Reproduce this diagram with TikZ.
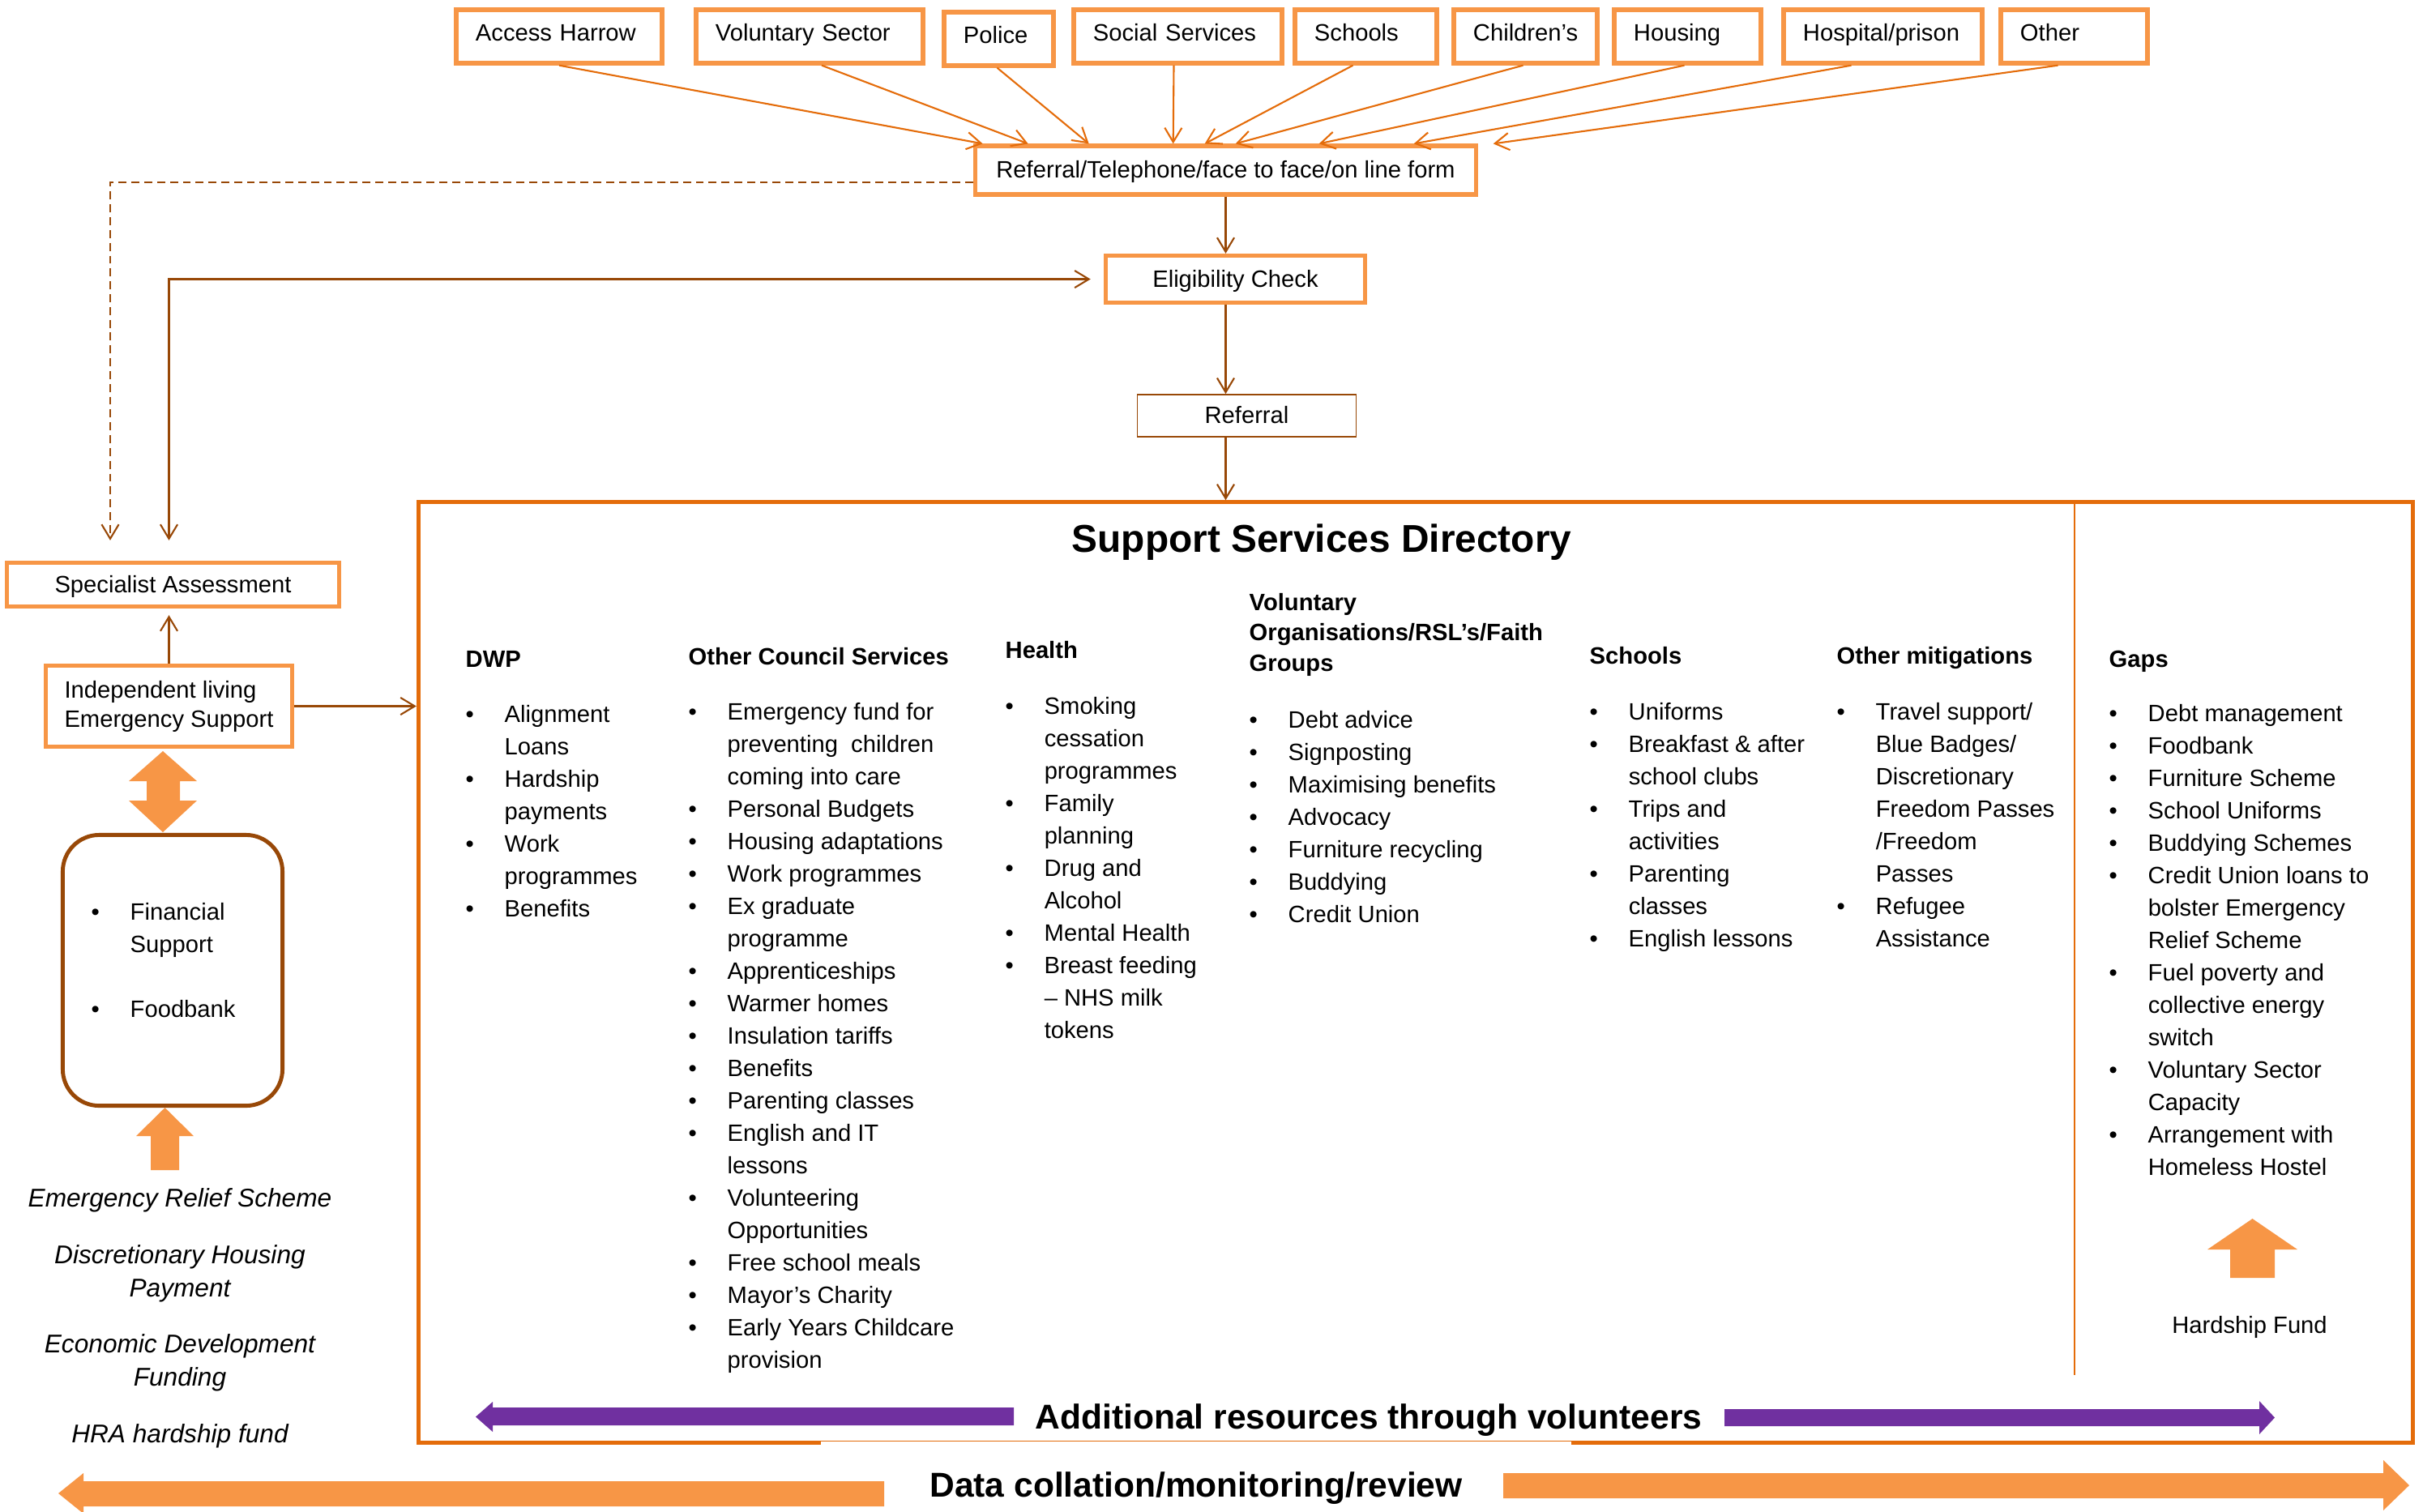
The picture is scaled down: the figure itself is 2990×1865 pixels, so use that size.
\documentclass[tikz,border=0pt]{standalone}
\usepackage{fontspec}
\setmainfont{Liberation Sans}
\usetikzlibrary{arrows.meta,calc}

\definecolor{lightorange}{HTML}{F79646}
\definecolor{darkorange}{HTML}{E46C0A}
\definecolor{rustbrown}{HTML}{984807}
\definecolor{volpurple}{HTML}{7030A0}

\newcommand{\itm}{\makebox[13.66pt][l]{\textbullet}}
\newcommand{\cnt}{\hspace*{13.66pt}}

\tikzset{
  >={Straight Barb[length=5pt,width=6pt]},
  boxbase/.style={draw=lightorange, line width=1.5pt, fill=white},
  srcbox/.style={boxbase, inner xsep=0.24cm, minimum height=0.66cm, align=left, text height=6pt, text depth=3pt},
  flowbox/.style={boxbase, align=center, text height=7pt, text depth=1.5pt},
  feed/.style={draw=darkorange, line width=0.6pt, ->},
  conn/.style={draw=rustbrown, line width=0.6pt, ->},
  head/.style={font=\fontsize{8.3}{10.67}\selectfont\bfseries, anchor=base west},
  items/.style={anchor=base west},
  fund/.style={font=\fontsize{9}{11.7}\selectfont\itshape, align=center},
  banner/.style={font=\fontsize{12.1}{14}\selectfont\bfseries, anchor=base}
}

\begin{document}
\begin{tikzpicture}[x=0.01cm,y=-0.01cm,
  every node/.style={font=\fontsize{8.3}{11.38}\selectfont, inner sep=0pt}]

  \useasboundingbox (0,0) rectangle (2990,1865);

  % where referrals come from
  \node[srcbox, text width=2.06cm] (ah)  at (690,45)    {Access Harrow};
  \node[srcbox, text width=2.32cm] (vs)  at (999,45)    {Voluntary Sector};
  \node[srcbox, text width=0.87cm] (pol) at (1232.5,48) {Police};
  \node[srcbox, text width=2.09cm] (ss)  at (1453.5,45) {Social Services};
  \node[srcbox, text width=1.27cm] (sch) at (1685.5,45) {Schools};
  \node[srcbox, text width=1.29cm] (chi) at (1882.5,45) {Children’s};
  \node[srcbox, text width=1.33cm] (hou) at (2082.5,45) {Housing};
  \node[srcbox, text width=1.97cm] (hos) at (2323.5,45) {Hospital/prison};
  \node[srcbox, text width=1.33cm] (oth) at (2559.5,45) {Other};

  \node[flowbox, minimum width=6.18cm, minimum height=0.6cm] (refT) at (1512.5,210)
    {Referral/Telephone/face to face/on line form};
  \node[flowbox, minimum width=3.2cm, minimum height=0.58cm] (elig) at (1524.5,344.5) {Eligibility Check};
  \node[flowbox, draw=rustbrown, line width=0.5pt, minimum width=2.7cm, minimum height=0.52cm] (ref) at (1538.5,513) {Referral};

  \foreach \src/\sx/\ex in {ah/0/12, vs/15/68, pol/-2/143, ss/-5/247, sch/-16/286,
                            chi/-3/324, hou/-4/427, hos/-39/544, oth/-20/642}
    \draw[feed] ($(\src.south)+(\sx,0)$) -- ($(refT.north west)+(\ex,0)$);

  % left hand side
  \node[flowbox, minimum width=4.1cm, minimum height=0.54cm] (spec) at (213.5,721.5) {Specialist Assessment};
  \node[boxbase, align=left, minimum width=3.04cm, minimum height=1.0cm,
        font=\fontsize{8.3}{10.24}\selectfont] (ind) at (208.5,871.5) {Independent living\\Emergency Support};
  \node[draw=rustbrown, line width=1.4pt, rounded corners=0.45cm, minimum width=2.71cm, minimum height=3.34cm] (fin) at (213,1197.5) {};
  \node[items] (finlist) at (112,1135) {\begin{tabular}[t]{@{}l@{}}
    \itm Financial\\ \cnt Support\\ \\ \itm Foodbank\end{tabular}};

  \fill[lightorange] (201,927) -- (243,964) -- (222,964) -- (222,988) -- (243,988) -- (201,1027)
    -- (159,988) -- (181,988) -- (181,964) -- (159,964) -- cycle;
  \fill[lightorange] (203.5,1367) -- (239,1402) -- (221,1402) -- (221,1444) -- (186,1444)
    -- (186,1402) -- (168,1402) -- cycle;

  \node[fund, anchor=base] (funds) at (222,1780) {Emergency Relief Scheme\\[8pt]Discretionary Housing\\Payment\\[8pt]Economic Development\\Funding\\[8pt]HRA hardship fund};

  % directory
  \node[draw=darkorange, line width=1.4pt, minimum width=24.6cm, minimum height=11.6cm] (ssd) at (1747,1200) {};
  \node[font=\fontsize{13.6}{16}\selectfont\bfseries, anchor=base] (ssdtitle) at (1631,681) {Support Services Directory};
  \coordinate (gapx) at (2560,1697);
  \draw[darkorange, line width=0.45pt] (gapx |- ssd.north) -- (gapx);

  \draw[conn] (refT.south) -- (refT.south |- elig.north);
  \draw[conn] (refT.south |- elig.south) -- (refT.south |- ref.north);
  \draw[conn] (refT.south |- ref.south) -- (refT.south |- ssd.north);

  \coordinate (dashx) at (136,0);
  \draw[conn, dash pattern=on 2.8pt off 1.7pt, shorten >=0.25cm] ($(refT.west)+(0,15)$) -| (dashx |- spec.north);
  \draw[conn, <->, shorten <=0.25cm, shorten >=0.16cm] (ind.north |- spec.north) |- (elig.west);
  \draw[conn, shorten >=0.08cm] (ind.north) -- (ind.north |- spec.south);
  \draw[conn] (ind.east) -- (ind.east -| ssd.west);

  \node[head] (dwph) at (574,823) {DWP};
  \node[items] (dwpl) at (574,891) {\begin{tabular}[t]{@{}l@{}}
    \itm Alignment\\ \cnt Loans\\ \itm Hardship\\ \cnt payments\\ \itm Work\\ \cnt programmes\\ \itm Benefits\end{tabular}};

  \node[head] (ocsh) at (849,820) {Other Council Services};
  \node[items] (ocsl) at (849,888) {\begin{tabular}[t]{@{}l@{}}
    \itm Emergency fund for\\ \cnt preventing\ \ children\\ \cnt coming into care\\
    \itm Personal Budgets\\ \itm Housing adaptations\\ \itm Work programmes\\
    \itm Ex graduate\\ \cnt programme\\ \itm Apprenticeships\\ \itm Warmer homes\\
    \itm Insulation tariffs\\ \itm Benefits\\ \itm Parenting classes\\
    \itm English and IT\\ \cnt lessons\\ \itm Volunteering\\ \cnt Opportunities\\
    \itm Free school meals\\ \itm Mayor’s Charity\\ \itm Early Years Childcare\\ \cnt provision\end{tabular}};

  \node[head] (hlth) at (1240,812) {Health};
  \node[items] (hltl) at (1240,881) {\begin{tabular}[t]{@{}l@{}}
    \itm Smoking\\ \cnt cessation\\ \cnt programmes\\ \itm Family\\ \cnt planning\\
    \itm Drug and\\ \cnt Alcohol\\ \itm Mental Health\\ \itm Breast feeding\\
    \cnt – NHS milk\\ \cnt tokens\end{tabular}};

  \node[head] (volh) at (1541,753) {\begin{tabular}[t]{@{}l@{}}
    Voluntary\\ Organisations/RSL’s/Faith\\ Groups\end{tabular}};
  \node[items] (voll) at (1541,898) {\begin{tabular}[t]{@{}l@{}}
    \itm Debt advice\\ \itm Signposting\\ \itm Maximising benefits\\ \itm Advocacy\\
    \itm Furniture recycling\\ \itm Buddying\\ \itm Credit Union\end{tabular}};

  \node[head] (schh) at (1961,819) {Schools};
  \node[items] (schl) at (1961,888) {\begin{tabular}[t]{@{}l@{}}
    \itm Uniforms\\ \itm Breakfast \& after\\ \cnt school clubs\\ \itm Trips and\\
    \cnt activities\\ \itm Parenting\\ \cnt classes\\ \itm English lessons\end{tabular}};

  \node[head] (mith) at (2266,819) {Other mitigations};
  \node[items] (mitl) at (2266,888) {\begin{tabular}[t]{@{}l@{}}
    \itm Travel support/\\ \cnt Blue Badges/\\ \cnt Discretionary\\ \cnt Freedom Passes\\
    \cnt /Freedom\\ \cnt Passes\\ \itm Refugee\\ \cnt Assistance\end{tabular}};

  \node[head] (gaph) at (2602,823) {Gaps};
  \node[items] (gapl) at (2602,890) {\begin{tabular}[t]{@{}l@{}}
    \itm Debt management\\ \itm Foodbank\\ \itm Furniture Scheme\\ \itm School Uniforms\\
    \itm Buddying Schemes\\ \itm Credit Union loans to\\ \cnt bolster Emergency\\
    \cnt Relief Scheme\\ \itm Fuel poverty and\\ \cnt collective energy\\ \cnt switch\\
    \itm Voluntary Sector\\ \cnt Capacity\\ \itm Arrangement with\\ \cnt Homeless Hostel\end{tabular}};

  \fill[lightorange] (2779.5,1504) -- (2835,1542) -- (2807,1542) -- (2807,1577) -- (2752,1577)
    -- (2752,1542) -- (2724,1542) -- cycle;
  \node[anchor=base] (hfund) at (2776,1645) {Hardship Fund};

  % banners along the bottom
  \fill[volpurple] (587,1748.5) -- (608,1730) -- (608,1737) -- (1251,1737) -- (1251,1759)
    -- (608,1759) -- (608,1767) -- cycle;
  \fill[volpurple] (2807,1749.5) -- (2788,1729) -- (2788,1739) -- (2128,1739) -- (2128,1760)
    -- (2788,1760) -- (2788,1770) -- cycle;
  \node[banner] (volres) at (1689,1763) {Additional resources through volunteers};

  \node[banner, fill=white, minimum width=9.26cm, text height=19.35pt, text depth=5pt] (datarev) at (1476,1847)
    {Data collation/monitoring/review};
  \fill[lightorange] (72,1843) -- (103,1818) -- (103,1828) -- (1091,1828) -- (1091,1859)
    -- (103,1859) -- (103,1868) -- cycle;
  \fill[lightorange] (2973,1833) -- (2941,1802) -- (2941,1818) -- (1855,1818) -- (1855,1849)
    -- (2941,1849) -- (2941,1864) -- cycle;

\end{tikzpicture}
\end{document}
